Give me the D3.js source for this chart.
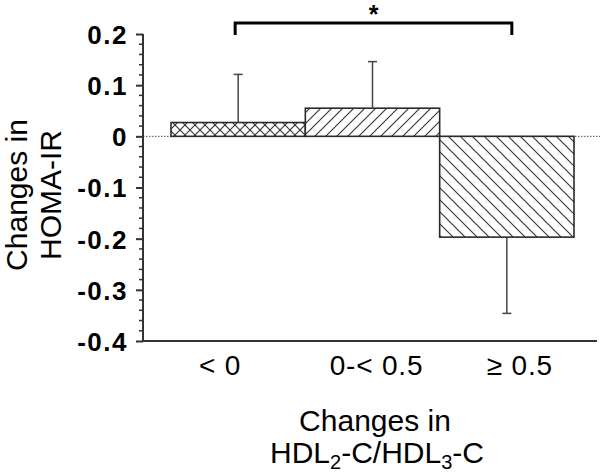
<!DOCTYPE html>
<html>
<head>
<meta charset="utf-8">
<script src="https://cdn.jsdelivr.net/npm/d3@7"></script>
<style>
  html, body { margin: 0; padding: 0; background: #fff; }
  svg { display: block; }
  text { font-family: "Liberation Sans", Arial, sans-serif; fill: #000; }
</style>
</head>
<body>
<svg id="chart" width="600" height="472"></svg>
<script>
// ---- data ----
const categories = ["< 0", "0-< 0.5", "≥ 0.5"];
const means = [0.027, 0.055, -0.197];
const errors = [0.094, 0.091, 0.149];
const patterns = ["cross", "fwd", "back"];
const yTicks = [0.2, 0.1, 0, -0.1, -0.2, -0.3, -0.4];
const yTickLabels = ["0.2", "0.1", "0", "-0.1", "-0.2", "-0.3", "-0.4"];
const sigPair = ["< 0", "≥ 0.5"];
const sigLabel = "*";

const svg = d3.select("#chart");
const axisX = 143, bottomY = 341, topY = 34, rightX = 597;

const y = d3.scaleLinear().domain([-0.4, 0.2]).range([bottomY, topY]);
const x = d3.scaleBand().domain(categories).range([171, 574]).padding(0);

// patterns
const defs = svg.append("defs");
function hatch(id, size, paths) {
  const p = defs.append("pattern").attr("id", id)
    .attr("patternUnits", "userSpaceOnUse").attr("width", size).attr("height", size);
  p.append("rect").attr("width", size).attr("height", size).attr("fill", "#fff");
  paths.forEach(d => p.append("path").attr("d", d).attr("stroke", "#333").attr("stroke-width", 1.1).attr("fill", "none"));
}
hatch("cross", 10, ["M-1,1 L1,-1 M0,10 L10,0 M9,11 L11,9", "M-1,9 L1,11 M0,0 L10,10 M9,-1 L11,1"]);
hatch("fwd", 11, ["M-1,1 L1,-1 M0,11 L11,0 M10,12 L12,10"]);
hatch("back", 12, ["M-1,11 L1,13 M0,0 L12,12 M11,-1 L13,1"]);

// zero dotted line
svg.append("line")
  .attr("x1", axisX).attr("x2", 600).attr("y1", y(0)).attr("y2", y(0))
  .attr("stroke", "#555").attr("stroke-width", 1).attr("stroke-dasharray", "1.5,1.5");

// bars
svg.selectAll("rect.bar").data(categories).enter().append("rect")
  .attr("class", "bar")
  .attr("x", d => x(d))
  .attr("width", x.bandwidth())
  .attr("y", (d, i) => y(Math.max(0, means[i])))
  .attr("height", (d, i) => Math.abs(y(means[i]) - y(0)))
  .attr("fill", (d, i) => `url(#${patterns[i]})`)
  .attr("stroke", "#2a2a2a").attr("stroke-width", 1.6);

// error bars
categories.forEach((c, i) => {
  const cx = x(c) + x.bandwidth() / 2;
  const v = means[i], e = means[i] >= 0 ? means[i] + errors[i] : means[i] - errors[i];
  svg.append("line").attr("x1", cx).attr("x2", cx).attr("y1", y(v)).attr("y2", y(e))
    .attr("stroke", "#444").attr("stroke-width", 1.5);
  svg.append("line").attr("x1", cx - 4.5).attr("x2", cx + 4.5).attr("y1", y(e)).attr("y2", y(e))
    .attr("stroke", "#444").attr("stroke-width", 1.5);
});

// y axis
const yAxis = svg.append("g").attr("transform", `translate(${axisX},0)`)
  .call(d3.axisLeft(y).tickValues(yTicks).tickSize(7).tickPadding(8)
    .tickFormat((d, i) => yTickLabels[i]));
yAxis.select(".domain").attr("stroke", "#333").attr("stroke-width", 2).attr("d", `M0,${topY}V${bottomY}`);
yAxis.selectAll(".tick line").attr("stroke", "#333").attr("stroke-width", 2);
yAxis.selectAll(".tick text")
  .style("font-family", "'Liberation Sans', Arial, sans-serif")
  .style("font-size", "26px").style("font-weight", "bold").style("letter-spacing", "1.5px")
  .attr("fill", "#000").attr("dy", "0.36em");

// minor ticks
const minorVals = d3.range(-0.4, 0.2001, 0.02).map(v => +v.toFixed(2)).filter(v => Math.abs(Math.round(v * 10) - v * 10) > 1e-6);
svg.append("g").selectAll("line").data(minorVals).enter().append("line")
  .attr("x1", axisX - 4).attr("x2", axisX).attr("y1", d => y(d)).attr("y2", d => y(d))
  .attr("stroke", "#333").attr("stroke-width", 1.5);

// x axis
svg.append("line").attr("x1", axisX).attr("x2", rightX).attr("y1", bottomY).attr("y2", bottomY)
  .attr("stroke", "#333").attr("stroke-width", 2);
const labelShift = [-18, 4, 13];
const xAxis = svg.append("g").attr("transform", `translate(0,${bottomY})`)
  .call(d3.axisBottom(x).tickSize(0).tickPadding(14));
xAxis.select(".domain").remove();
xAxis.selectAll(".tick text")
  .style("font-family", "'Liberation Sans', Arial, sans-serif")
  .style("font-size", "28px").style("letter-spacing", "0.8px").attr("fill", "#000")
  .attr("dx", (d, i) => labelShift[i]);

// axis titles
const xt = svg.append("text").attr("text-anchor", "middle")
  .style("font-size", "30px");
xt.append("tspan").attr("x", 375).attr("y", 431).text("Changes in");
const l2 = xt.append("tspan").attr("x", 377).attr("y", 463);
l2.append("tspan").text("HDL");
l2.append("tspan").attr("dy", 6).style("font-size", "20px").text("2");
l2.append("tspan").attr("dy", -6).text("-C/HDL");
l2.append("tspan").attr("dy", 6).style("font-size", "20px").text("3");
l2.append("tspan").attr("dy", -6).text("-C");

const yt = svg.append("text").attr("text-anchor", "middle")
  .attr("transform", "translate(0,195) rotate(-90)")
  .style("font-size", "30px");
yt.append("tspan").attr("x", 0).attr("y", 27).text("Changes in");
yt.append("tspan").attr("x", 0).attr("y", 61).text("HOMA-IR");

// significance bracket
const x1 = x(sigPair[0]) + x.bandwidth() / 2 - 3, x2 = x(sigPair[1]) + x.bandwidth() / 2 + 5;
svg.append("path")
  .attr("d", `M${x1},35 V23 H${x2} V35`)
  .attr("fill", "none").attr("stroke", "#000").attr("stroke-width", 3);
svg.append("text").attr("x", (x1 + x2) / 2).attr("y", 23).attr("text-anchor", "middle")
  .style("font-size", "25px").style("font-weight", "bold").text(sigLabel);
</script>
</body>
</html>
